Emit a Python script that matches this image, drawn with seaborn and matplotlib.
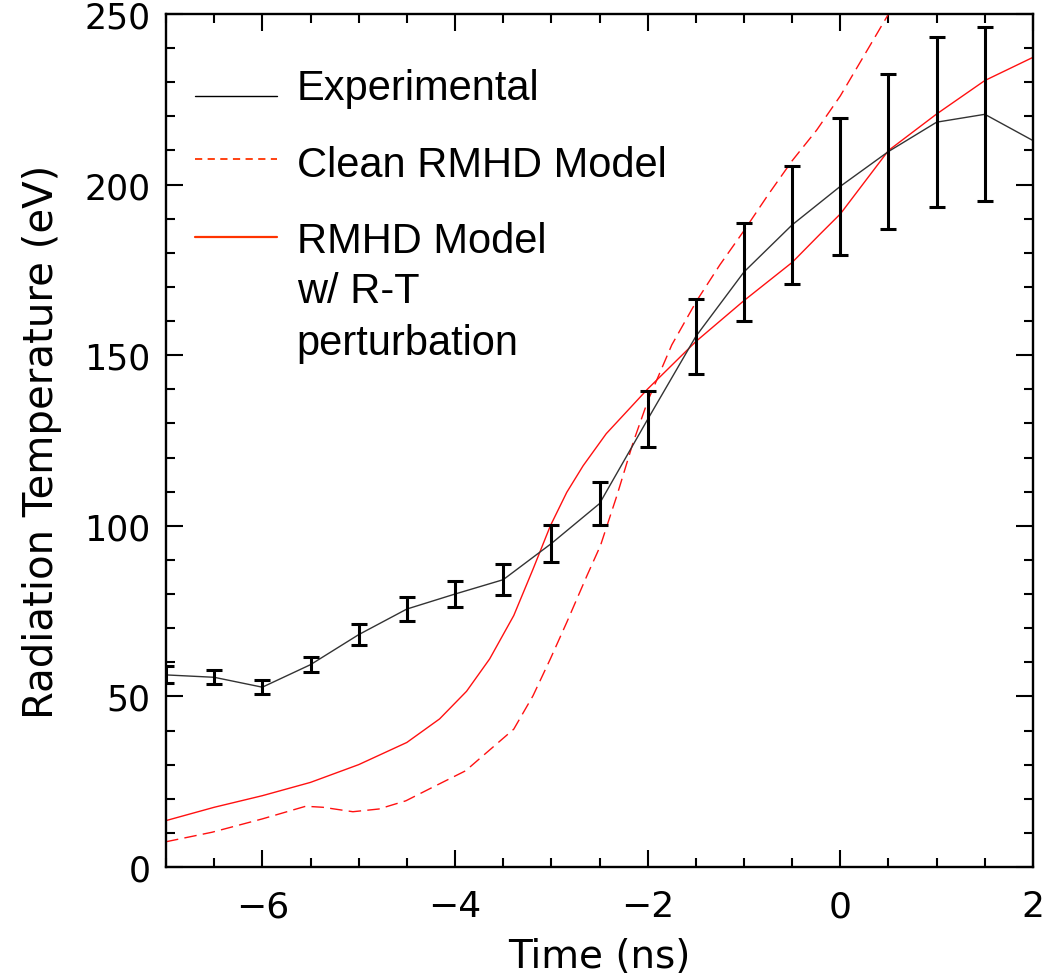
import numpy as np
import pandas as pd
import matplotlib
matplotlib.use("Agg")
import matplotlib.pyplot as plt
from matplotlib.ticker import MultipleLocator
import seaborn as sns

# ---------------- data ----------------
exp_time = [-7.0, -6.5, -6.0, -5.5, -5.0, -4.5, -4.0, -3.5, -3.0, -2.5,
            -2.0, -1.5, -1.0, -0.5, 0.0, 0.5, 1.0, 1.5, 2.0]
exp_temp = [56.3, 55.6, 52.7, 59.3, 68.1, 75.6, 80.0, 84.2, 94.8, 106.5,
            131.2, 155.5, 174.4, 188.2, 199.5, 209.7, 218.3, 220.6, 212.9]
exp_err = [2.5, 2.0, 2.0, 2.2, 3.0, 3.4, 3.9, 4.6, 5.5, 6.3,
           8.2, 11.1, 14.3, 17.3, 20.0, 22.7, 25.0, 25.5]

clean_time = [-7.0, -6.52, -6.0, -5.55, -5.37, -5.06, -4.79, -4.51, -4.23,
              -3.89, -3.71, -3.39, -3.19, -3.01, -2.84, -2.63, -2.49, -2.32,
              -2.15, -2.0, -1.75, -1.49, -1.25, -1.0, -0.75, -0.5, -0.245,
              0.0, 0.24, 0.5, 0.6]
clean_temp = [7.4, 10.2, 14.1, 17.8, 17.5, 16.2, 17.0, 19.4, 23.4,
              28.2, 32.6, 40.4, 50.2, 61.0, 71.7, 85.4, 94.2, 108.8,
              124.5, 136.5, 153.0, 166.0, 176.5, 186.5, 197.0, 207.0, 216.0,
              226.0, 237.5, 250.0, 255.0]

rt_time = [-7.0, -6.5, -6.0, -5.5, -5.0, -4.5, -4.16, -3.88, -3.64, -3.39,
           -3.19, -3.01, -2.84, -2.67, -2.43, -2.2, -2.0, -1.5, -1.0, -0.5,
           -0.21, 0.0, 0.5, 1.0, 1.5, 2.0]
rt_temp = [13.6, 17.5, 20.9, 24.8, 30.0, 36.5, 43.4, 51.5, 61.0, 73.7,
           87.3, 100.0, 109.8, 117.6, 127.0, 134.0, 140.1, 154.0, 166.0, 177.2,
           185.5, 191.4, 210.0, 220.7, 230.5, 237.3]

legend_labels = ["Experimental", "Clean RMHD Model", "RMHD Model", "w/ R-T", "perturbation"]
x_label = "Time (ns)"
y_label = "Radiation Temperature (eV)"

# ---------------- style ----------------
sns.set_theme(style="ticks")
plt.rcParams["font.family"] = ["DejaVu Sans"]
plt.rcParams["axes.linewidth"] = 1.7
plt.rcParams["xtick.direction"] = "in"
plt.rcParams["ytick.direction"] = "in"
plt.rcParams["text.color"] = "black"
plt.rcParams["axes.labelcolor"] = "black"
plt.rcParams["xtick.labelcolor"] = "black"
plt.rcParams["ytick.labelcolor"] = "black"

fig = plt.figure(figsize=(10.43, 9.78), dpi=100)
ax = fig.add_axes([166 / 1043, 1 - 868 / 978, 867 / 1043, 853 / 978])

exp_df = pd.DataFrame({"t": exp_time, "T": exp_temp})
clean_df = pd.DataFrame({"t": clean_time, "T": clean_temp})
rt_df = pd.DataFrame({"t": rt_time, "T": rt_temp})

sns.lineplot(data=clean_df, x="t", y="T", ax=ax, color="#ff1010", lw=1.0,
             linestyle=(0, (9, 4.5)), estimator=None, sort=False)
sns.lineplot(data=rt_df, x="t", y="T", ax=ax, color="#ff1010", lw=1.0,
             estimator=None, sort=False)
sns.lineplot(data=exp_df, x="t", y="T", ax=ax, color="#333333", lw=1.0,
             estimator=None, sort=False)
ax.errorbar(exp_time[:len(exp_err)], exp_temp[:len(exp_err)], yerr=exp_err,
            fmt="none", ecolor="black", elinewidth=2.2, capsize=6, capthick=2.2,
            zorder=3)

ax.set_xlim(-7, 2)
ax.set_ylim(0, 250)
ax.xaxis.set_major_locator(MultipleLocator(2))
ax.xaxis.set_minor_locator(MultipleLocator(0.5))
ax.yaxis.set_major_locator(MultipleLocator(50))
ax.yaxis.set_minor_locator(MultipleLocator(10))
ax.set_xticks([-6, -4, -2, 0, 2])
ax.tick_params(which="both", top=True, right=True, direction="in", width=1.5,
               color="black")
ax.tick_params(which="major", length=12)
ax.tick_params(which="minor", length=6.5)
ax.tick_params(axis="x", which="major", labelsize=26, pad=16, labelcolor="black")
ax.tick_params(axis="y", which="major", labelsize=25, pad=11, labelcolor="black")
for s in ax.spines.values():
    s.set_color("black")

ax.set_xlabel(x_label, fontsize=28, labelpad=10, color="black")
ax.set_ylabel(y_label, fontsize=29, labelpad=16, color="black")

# ---------------- legend (manual, in axes coordinates) ----------------
lx0, lx1, tx = 0.0334, 0.1277, 0.1507
ax.plot([lx0, lx1], [0.9042, 0.9042], transform=ax.transAxes, color="black", lw=1.0)
ax.plot([lx0, lx1], [0.830, 0.830], transform=ax.transAxes, color="#ff3300", lw=1.3,
        linestyle=(0, (4, 3)))
ax.plot([lx0, lx1], [0.7389, 0.7389], transform=ax.transAxes, color="#ff3300", lw=1.6)
lfont = dict(fontsize=30, family=["Liberation Sans", "DejaVu Sans"], va="baseline",
             ha="left", transform=ax.transAxes, color="black")
ax.text(tx, 0.9004, legend_labels[0], **lfont)
ax.text(tx, 0.8104, legend_labels[1], **lfont)
ax.text(tx, 0.7206, legend_labels[2], **lfont)
ax.text(tx, 0.6620, legend_labels[3], **lfont)
ax.text(tx, 0.6014, legend_labels[4], **lfont)

fig.savefig("out.png", dpi=100)
